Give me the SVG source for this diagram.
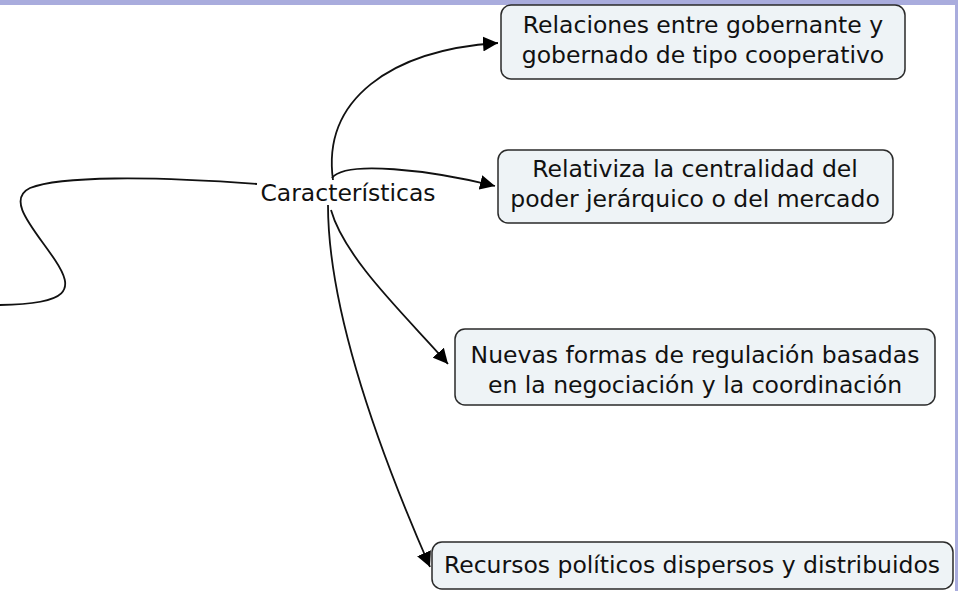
<svg xmlns="http://www.w3.org/2000/svg" width="958" height="591" viewBox="0 0 958 591">
<defs>
<marker id="arr" viewBox="0 0 10 10" refX="10" refY="5" markerWidth="15" markerHeight="15" markerUnits="userSpaceOnUse" orient="auto">
<path d="M0,0 L10,5 L0,10 z" fill="#000"/>
</marker>
<style>
.box{fill:#eef3f6;stroke:#2a2a2a;stroke-width:1.5}
.t{font-family:"DejaVu Sans",Verdana,sans-serif;font-size:23.5px;fill:#111;text-anchor:middle}
.c{fill:none;stroke:#111;stroke-width:1.8}
</style>
</defs>
<rect width="958" height="591" fill="#fff"/>
<rect x="0" y="0" width="958" height="5" fill="#a9acdd"/>
<rect x="955" y="0" width="3" height="591" fill="#a9acdd"/>
<g id="connectors">
<path class="c" d="M0,305 C70,304 75,290 55,260 C35,230 5,200 30,188 C60,176 150,176 257,184"/>
<path class="c" d="M333,180 C322,100 390,50 498,43" marker-end="url(#arr)"/>
<path class="c" d="M332,178 C345,160 430,170 495,186" marker-end="url(#arr)"/>
<path class="c" d="M331,210 C345,260 410,320 448,364" marker-end="url(#arr)"/>
<path class="c" d="M328,205 C328,300 370,430 430,567" marker-end="url(#arr)"/>
</g>
<g id="caracteristicas">
<text class="t" x="348" y="201">Características</text>
</g>
<g id="n1">
<rect class="box" x="501" y="5" width="404" height="74" rx="10"/>
<text class="t" x="703" y="33">Relaciones entre gobernante y</text>
<text class="t" x="703" y="63">gobernado de tipo cooperativo</text>
</g>
<g id="n2">
<rect class="box" x="498" y="150" width="395" height="73" rx="10"/>
<text class="t" x="695" y="177">Relativiza la centralidad del</text>
<text class="t" x="695" y="207">poder jerárquico o del mercado</text>
</g>
<g id="n3">
<rect class="box" x="455" y="329" width="480" height="76" rx="10"/>
<text class="t" x="695" y="363">Nuevas formas de regulación basadas</text>
<text class="t" x="695" y="393">en la negociación y la coordinación</text>
</g>
<g id="n4">
<rect class="box" x="432" y="542" width="521" height="47" rx="10"/>
<text class="t" x="692" y="573">Recursos políticos dispersos y distribuidos</text>
</g>
</svg>
